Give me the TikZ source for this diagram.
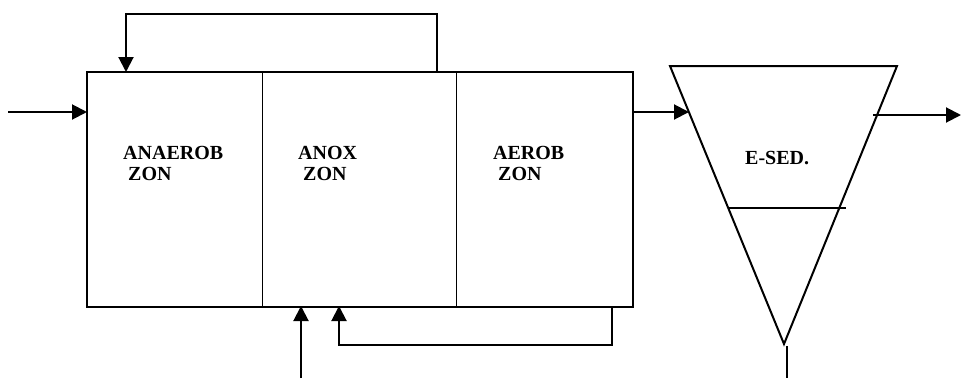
\documentclass[tikz,border=0pt]{standalone}
\usepackage{fontspec}
\setmainfont{Liberation Serif}
\usetikzlibrary{arrows.meta,positioning}

\begin{document}
\begin{tikzpicture}[x=1pt, y=-1pt,
  zone/.style={draw, rectangle, line width=1.4pt, minimum width=#1, minimum height=234pt, inner sep=0pt, anchor=north west},
  lab/.style={anchor=north west, align=left, inner sep=0pt, font=\fontsize{20}{21.5}\selectfont\bfseries},
  arr/.style={-{Triangle[length=15pt,width=15pt]}, line width=2pt},
  pipe/.style={line width=2pt}
]
\useasboundingbox (0,0) rectangle (962,378);
% basin with three zones
\node[zone=175pt] (ana) at (87,72) {};
\node[zone=194pt] (anox) at (262,72) {};
\node[zone=176pt] (aer) at (456,72) {};
\draw[line width=2pt] (ana.north west) rectangle (aer.south east);
\node[lab] (tana) at (123,146) {ANAEROB\\~ZON};
\node[lab] (tanox) at (298,146) {ANOX\\~ZON};
\node[lab] (taer) at (493,146) {AEROB\\~ZON};
% clarifier
\coordinate (cl) at (670,66);
\coordinate (cr) at (897,66);
\coordinate (ca) at (784,344);
\draw[line width=2pt, line join=miter] (cl) -- (cr) -- (ca) -- cycle;
\draw[line width=1.5pt] (728,208) -- (846,208);
\node[lab] (tsed) at (745,151) {E-SED.};
% connectors
\coordinate (in) at (8,112);
\draw[arr] (in) -- (in -| ana.west);
\coordinate (rtop) at (437,72);
\draw[arr] (rtop) -- (437,14) -- (126,14) -- (126,72);
\coordinate (feed) at (689,112);
\draw[arr] (feed -| aer.east) -- (feed);
\coordinate (eff) at (873,115);
\draw[arr] (eff) -- (961,115);
\coordinate (rbot) at (612,306);
\draw[arr] (rbot) -- (612,345) -- (339,345) -- (339,306);
\coordinate (in2) at (301,378);
\draw[arr] (in2) -- (301,306);
\coordinate (sludge) at (787,378);
\draw[pipe] (787,346) -- (sludge);
\end{tikzpicture}
\end{document}
